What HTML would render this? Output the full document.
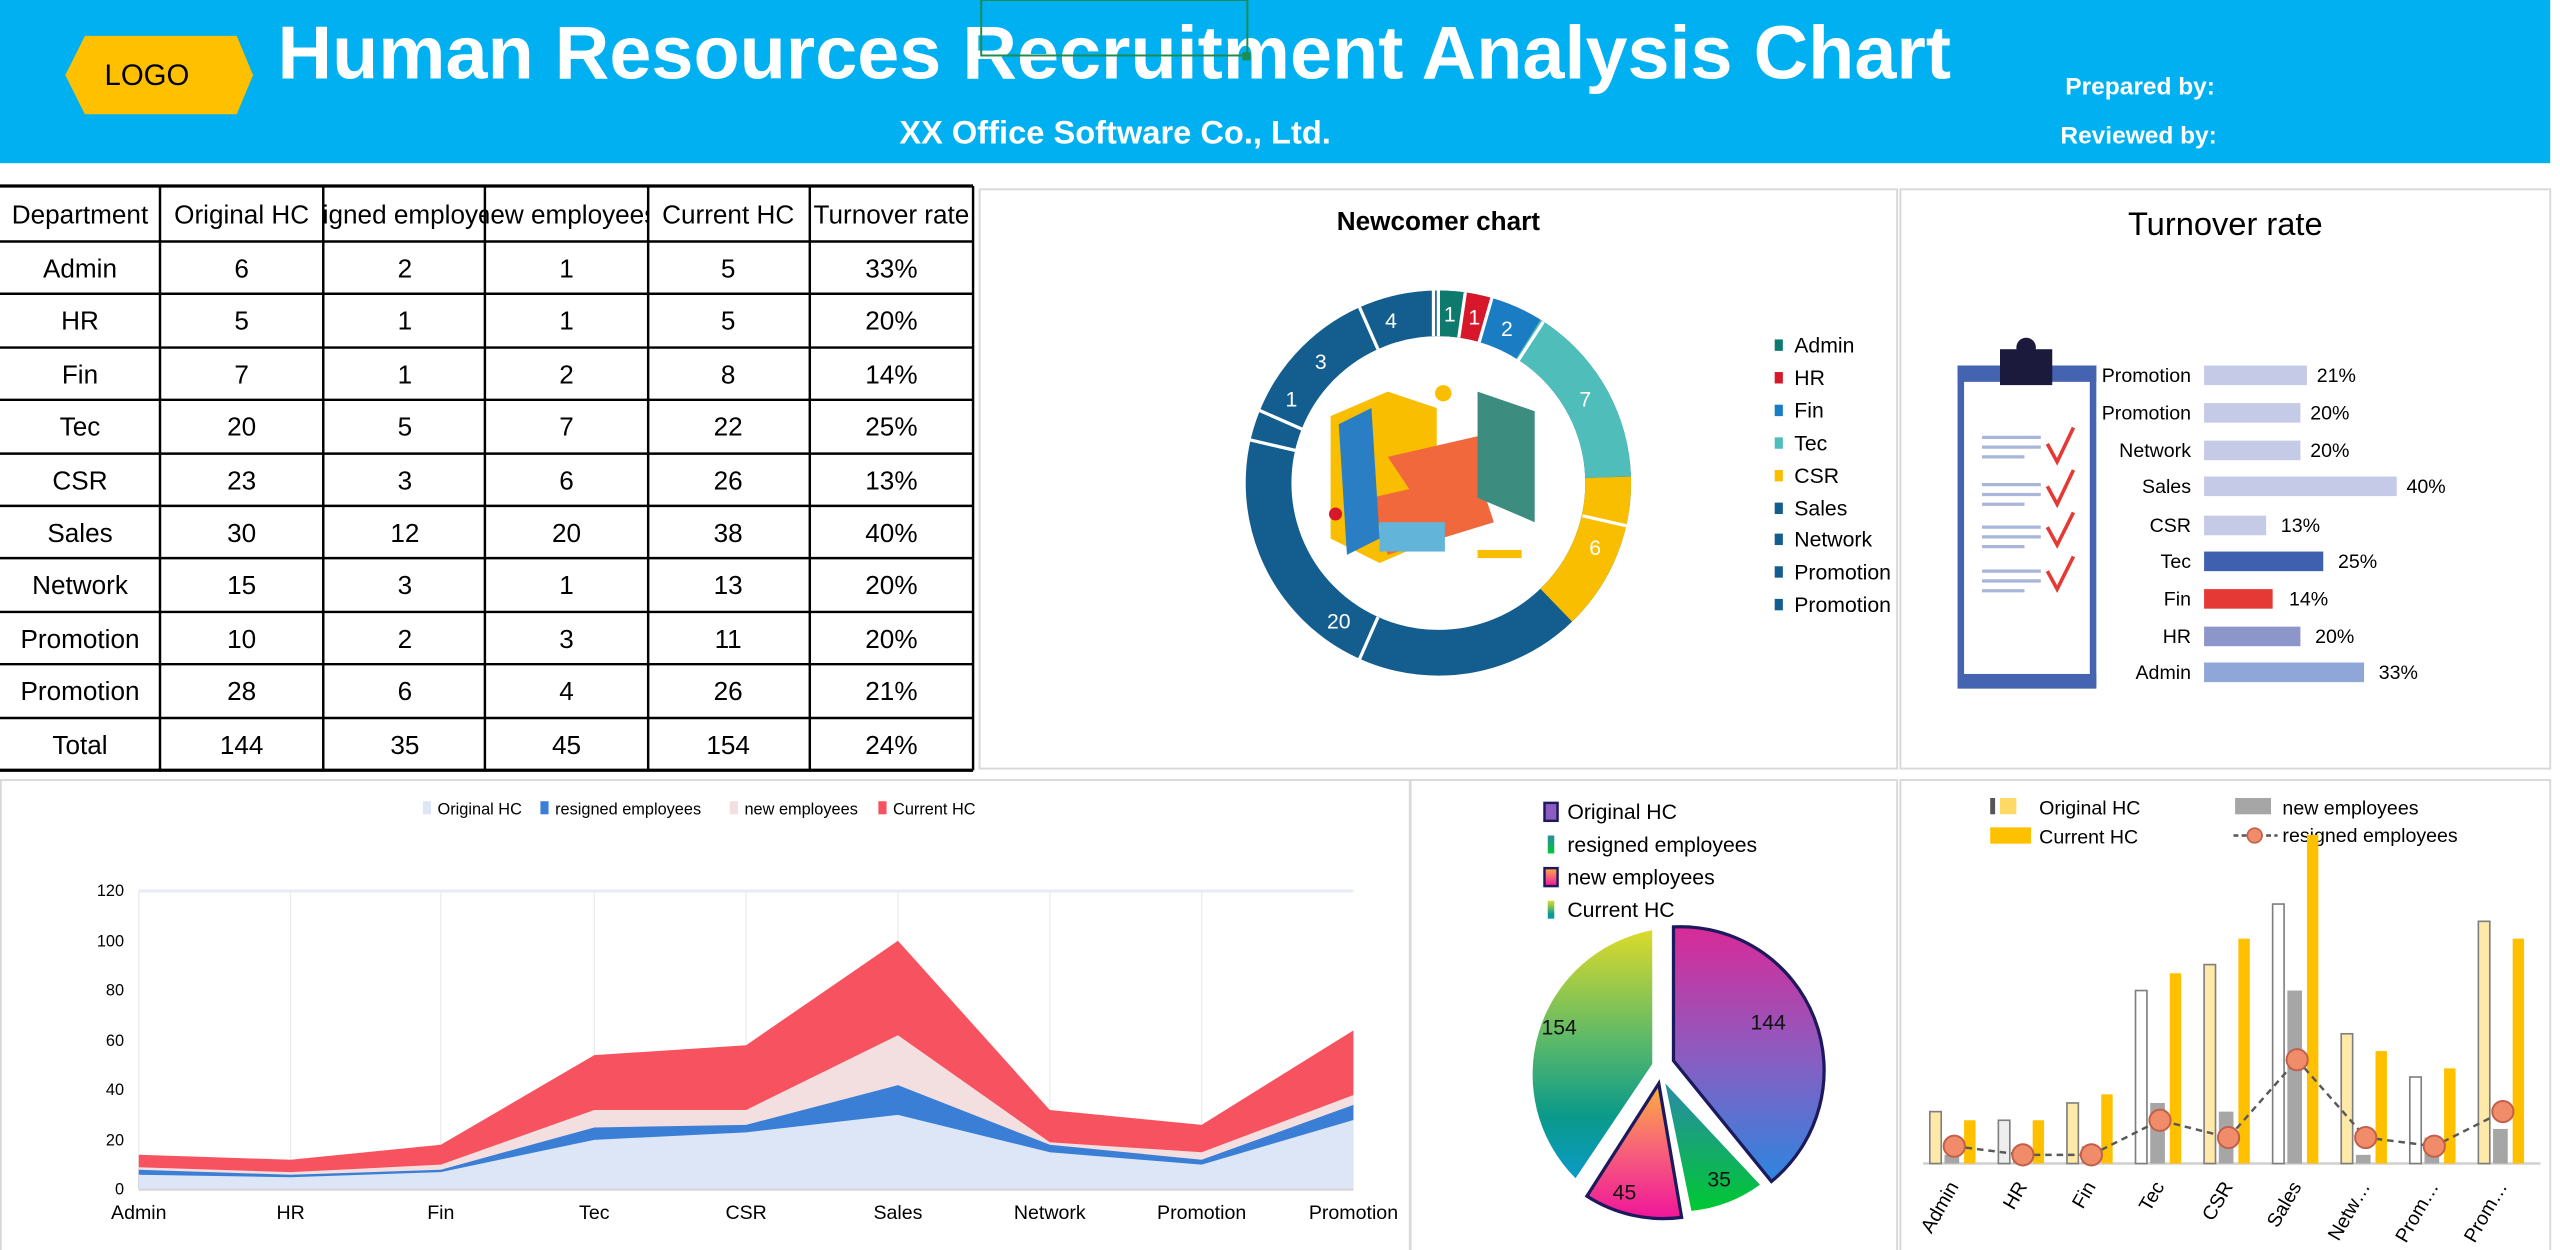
<!DOCTYPE html>
<html><head><meta charset="utf-8"><style>
html,body{margin:0;padding:0;background:#fff;}
svg{display:block;font-family:"Liberation Sans",Arial,sans-serif;}
</style></head><body>
<svg width="2560" height="1250" viewBox="0 0 1568 766" preserveAspectRatio="none" xmlns="http://www.w3.org/2000/svg">
<defs>
<linearGradient id="g144" x1="0" y1="0" x2="0" y2="1"><stop offset="0" stop-color="#D82A98"/><stop offset="0.5" stop-color="#8C5CC0"/><stop offset="1" stop-color="#2C86E0"/></linearGradient>
<linearGradient id="g154" x1="0" y1="0" x2="0" y2="1"><stop offset="0" stop-color="#DCDA2A"/><stop offset="0.45" stop-color="#5AB86A"/><stop offset="0.75" stop-color="#0A9A8A"/><stop offset="1" stop-color="#0A9AC8"/></linearGradient>
<linearGradient id="g45" x1="0" y1="0" x2="0" y2="1"><stop offset="0" stop-color="#FBB040"/><stop offset="0.5" stop-color="#F7607A"/><stop offset="1" stop-color="#F0159A"/></linearGradient>
<linearGradient id="g35" x1="0" y1="0" x2="0" y2="1"><stop offset="0" stop-color="#2A8AA8"/><stop offset="1" stop-color="#00C832"/></linearGradient>
</defs>
<!-- header -->
<rect x="0" y="0" width="1562" height="100" fill="#00B0F0"/>
<polygon points="52,22 145,22 155,46 145,70 52,70 40,46" fill="#FFC000"/>
<text x="90" y="52" font-size="18" text-anchor="middle" fill="#000">LOGO</text>
<text x="170" y="48" font-size="46" font-weight="bold" fill="#fff" textLength="1025" lengthAdjust="spacingAndGlyphs">Human Resources Recruitment Analysis Chart</text>
<text x="683" y="88" font-size="20" font-weight="bold" text-anchor="middle" fill="#fff">XX Office Software Co., Ltd.</text>
<text x="1265" y="58" font-size="15" font-weight="bold" fill="#fff">Prepared by:</text>
<text x="1262" y="88" font-size="15" font-weight="bold" fill="#fff">Reviewed by:</text>
<rect x="601" y="0" width="163" height="34" fill="none" stroke="#1E8C4E" stroke-width="1.2"/>
<rect x="761" y="32" width="5" height="5" fill="#1E8C4E"/>

<!-- table -->
<g font-size="16" text-anchor="middle" fill="#000">
<g stroke="#000" stroke-width="1.5">
<line x1="0" y1="114" x2="596" y2="114" stroke-width="2"/>
<line x1="0" y1="148" x2="596" y2="148"/><line x1="0" y1="180" x2="596" y2="180"/>
<line x1="0" y1="213" x2="596" y2="213"/><line x1="0" y1="245" x2="596" y2="245"/>
<line x1="0" y1="278" x2="596" y2="278"/><line x1="0" y1="310" x2="596" y2="310"/>
<line x1="0" y1="342" x2="596" y2="342"/><line x1="0" y1="375" x2="596" y2="375"/>
<line x1="0" y1="407" x2="596" y2="407"/><line x1="0" y1="440" x2="596" y2="440"/>
<line x1="0" y1="472" x2="596" y2="472" stroke-width="2"/>
<line x1="98" y1="114" x2="98" y2="472"/><line x1="198" y1="114" x2="198" y2="472"/>
<line x1="297" y1="114" x2="297" y2="472"/><line x1="397" y1="114" x2="397" y2="472"/>
<line x1="496" y1="114" x2="496" y2="472"/><line x1="596" y1="114" x2="596" y2="472"/>
</g>
<text x="49" y="137">Department</text><text x="148" y="137">Original HC</text>
<svg x="198" y="114" width="99" height="34"><text x="49" y="23" text-anchor="middle" font-size="16">resigned employees</text></svg>
<svg x="297" y="114" width="100" height="34"><text x="50" y="23" text-anchor="middle" font-size="16">new employees</text></svg>
<text x="446" y="137">Current HC</text><text x="546" y="137">Turnover rate</text>
<g>
<text x="49" y="170">Admin</text><text x="148" y="170">6</text><text x="248" y="170">2</text><text x="347" y="170">1</text><text x="446" y="170">5</text><text x="546" y="170">33%</text>
<text x="49" y="202">HR</text><text x="148" y="202">5</text><text x="248" y="202">1</text><text x="347" y="202">1</text><text x="446" y="202">5</text><text x="546" y="202">20%</text>
<text x="49" y="235">Fin</text><text x="148" y="235">7</text><text x="248" y="235">1</text><text x="347" y="235">2</text><text x="446" y="235">8</text><text x="546" y="235">14%</text>
<text x="49" y="267">Tec</text><text x="148" y="267">20</text><text x="248" y="267">5</text><text x="347" y="267">7</text><text x="446" y="267">22</text><text x="546" y="267">25%</text>
<text x="49" y="300">CSR</text><text x="148" y="300">23</text><text x="248" y="300">3</text><text x="347" y="300">6</text><text x="446" y="300">26</text><text x="546" y="300">13%</text>
<text x="49" y="332">Sales</text><text x="148" y="332">30</text><text x="248" y="332">12</text><text x="347" y="332">20</text><text x="446" y="332">38</text><text x="546" y="332">40%</text>
<text x="49" y="364">Network</text><text x="148" y="364">15</text><text x="248" y="364">3</text><text x="347" y="364">1</text><text x="446" y="364">13</text><text x="546" y="364">20%</text>
<text x="49" y="397">Promotion</text><text x="148" y="397">10</text><text x="248" y="397">2</text><text x="347" y="397">3</text><text x="446" y="397">11</text><text x="546" y="397">20%</text>
<text x="49" y="429">Promotion</text><text x="148" y="429">28</text><text x="248" y="429">6</text><text x="347" y="429">4</text><text x="446" y="429">26</text><text x="546" y="429">21%</text>
<text x="49" y="462">Total</text><text x="148" y="462">144</text><text x="248" y="462">35</text><text x="347" y="462">45</text><text x="446" y="462">154</text><text x="546" y="462">24%</text>
</g></g>

<!-- panels -->
<g fill="none" stroke="#D9D9D9" stroke-width="1.2">
<rect x="600" y="116" width="562" height="355"/>
<rect x="1164" y="116" width="398" height="355"/>
<rect x="0.5" y="478" width="863" height="290"/>
<rect x="864" y="478" width="298" height="290"/>
<rect x="1164" y="478" width="398" height="290"/>
</g>

<!-- newcomer donut -->
<text x="881" y="141" font-size="16" font-weight="bold" text-anchor="middle">Newcomer chart</text>
<g transform="rotate(-90 881 296)" fill="none" stroke-width="28">
<circle cx="881" cy="296" r="104" stroke="#135D8F" />
<circle cx="881" cy="296" r="104" stroke="#0E7A6E" stroke-dasharray="14.52 700" />
<circle cx="881" cy="296" r="104" stroke="#D7182A" stroke-dasharray="14.52 700" stroke-dashoffset="-14.52"/>
<circle cx="881" cy="296" r="104" stroke="#1A7DC4" stroke-dasharray="29.04 700" stroke-dashoffset="-29.04"/>
<circle cx="881" cy="296" r="104" stroke="#4FBDBA" stroke-dasharray="101.6 700" stroke-dashoffset="-58.08"/>
<circle cx="881" cy="296" r="104" stroke="#F9BE00" stroke-dasharray="87.1 700" stroke-dashoffset="-159.7"/>
</g>
<g stroke="#fff" stroke-width="2">
<line x1="881" y1="206" x2="881" y2="178"/>
<line x1="893.5" y1="206.9" x2="897.5" y2="179.2"/>
<line x1="906" y1="209.6" x2="913.8" y2="182.6"/>
<line x1="930" y1="220.7" x2="945.3" y2="197.2"/>
<line x1="969.3" y1="316.1" x2="996.6" y2="322.3"/>
<line x1="844" y1="378.2" x2="832.7" y2="403.9"/>
<line x1="793.3" y1="276" x2="765.8" y2="269.6"/>
<line x1="797.5" y1="263" x2="771" y2="251.3"/>
<line x1="844" y1="214" x2="832.7" y2="188.3"/>
<line x1="878" y1="206" x2="878" y2="178"/>
</g>
<g font-size="13" fill="#fff" text-anchor="middle">
<text x="888" y="197">1</text><text x="903" y="199">1</text><text x="923" y="206">2</text>
<text x="971" y="249">7</text><text x="977" y="340">6</text><text x="820" y="385">20</text>
<text x="791" y="249">1</text><text x="809" y="226">3</text><text x="852" y="201">4</text>
</g>
<!-- illustration approx -->
<g>
<polygon points="815,255 850,240 880,250 880,330 845,345 815,330" fill="#F9BE00"/>
<polygon points="850,280 915,265 935,290 870,310" fill="#F0683C"/>
<polygon points="840,305 905,290 915,320 850,340" fill="#F0683C"/>
<polygon points="905,240 940,252 940,320 905,305" fill="#3C8C80"/>
<polygon points="820,260 840,250 845,330 825,340" fill="#2A7EC4"/>
<rect x="845" y="320" width="40" height="18" fill="#62B4D8"/>
<rect x="905" y="337" width="27" height="5" fill="#F9BE00"/>
<circle cx="884" cy="241" r="5" fill="#F9BE00"/>
<circle cx="818" cy="315" r="4" fill="#D7182A"/>
</g>
<g font-size="13">
<rect x="1087" y="208" width="5" height="7" fill="#0E7A6E"/><text x="1099" y="216">Admin</text>
<rect x="1087" y="228" width="5" height="7" fill="#D7182A"/><text x="1099" y="236">HR</text>
<rect x="1087" y="248" width="5" height="7" fill="#1A7DC4"/><text x="1099" y="256">Fin</text>
<rect x="1087" y="268" width="5" height="7" fill="#4FBDBA"/><text x="1099" y="276">Tec</text>
<rect x="1087" y="288" width="5" height="7" fill="#F9BE00"/><text x="1099" y="296">CSR</text>
<rect x="1087" y="308" width="5" height="7" fill="#135D8F"/><text x="1099" y="316">Sales</text>
<rect x="1087" y="327" width="5" height="7" fill="#135D8F"/><text x="1099" y="335">Network</text>
<rect x="1087" y="347" width="5" height="7" fill="#135D8F"/><text x="1099" y="355">Promotion</text>
<rect x="1087" y="367" width="5" height="7" fill="#135D8F"/><text x="1099" y="375">Promotion</text>
</g>

<!-- turnover -->
<text x="1363" y="144" font-size="20" text-anchor="middle">Turnover rate</text>
<rect x="1201" y="226" width="81" height="193" fill="#fff" stroke="#4463B0" stroke-width="4"/>
<rect x="1199" y="224" width="85" height="10" fill="#4463B0"/>
<rect x="1199" y="413" width="85" height="9" fill="#4463B0"/>
<rect x="1225" y="214" width="32" height="22" fill="#1C1A3C"/>
<circle cx="1241" cy="213" r="6" fill="#1C1A3C"/>
<g stroke="#A9B6DA" stroke-width="2">
<line x1="1214" y1="268" x2="1250" y2="268"/><line x1="1214" y1="274" x2="1250" y2="274"/><line x1="1214" y1="280" x2="1240" y2="280"/>
<line x1="1214" y1="297" x2="1250" y2="297"/><line x1="1214" y1="303" x2="1250" y2="303"/><line x1="1214" y1="309" x2="1240" y2="309"/>
<line x1="1214" y1="323" x2="1250" y2="323"/><line x1="1214" y1="329" x2="1250" y2="329"/><line x1="1214" y1="335" x2="1240" y2="335"/>
<line x1="1214" y1="350" x2="1250" y2="350"/><line x1="1214" y1="356" x2="1250" y2="356"/><line x1="1214" y1="362" x2="1240" y2="362"/>
</g>
<g stroke="#E53935" stroke-width="2.2" fill="none">
<polyline points="1254,272 1260,283 1270,262"/><polyline points="1254,298 1260,309 1270,288"/>
<polyline points="1254,323 1260,334 1270,314"/><polyline points="1254,350 1260,361 1270,341"/>
</g>
<g font-size="12">
<g text-anchor="end">
<text x="1342" y="234">Promotion</text><text x="1342" y="257">Promotion</text><text x="1342" y="280">Network</text>
<text x="1342" y="302">Sales</text><text x="1342" y="326">CSR</text><text x="1342" y="348">Tec</text>
<text x="1342" y="371">Fin</text><text x="1342" y="394">HR</text><text x="1342" y="416">Admin</text>
</g>
<rect x="1350" y="224" width="63" height="12" fill="#C5CAE6"/><text x="1419" y="234">21%</text>
<rect x="1350" y="247" width="59" height="12" fill="#C5CAE6"/><text x="1415" y="257">20%</text>
<rect x="1350" y="270" width="59" height="12" fill="#C5CAE6"/><text x="1415" y="280">20%</text>
<rect x="1350" y="292" width="118" height="12" fill="#C5CAE6"/><text x="1474" y="302">40%</text>
<rect x="1350" y="316" width="38" height="12" fill="#C5CAE6"/><text x="1397" y="326">13%</text>
<rect x="1350" y="338" width="73" height="12" fill="#3F5FAF"/><text x="1432" y="348">25%</text>
<rect x="1350" y="361" width="42" height="12" fill="#E53935"/><text x="1402" y="371">14%</text>
<rect x="1350" y="384" width="59" height="12" fill="#8C96CB"/><text x="1418" y="394">20%</text>
<rect x="1350" y="406" width="98" height="12" fill="#8FA6D9"/><text x="1457" y="416">33%</text>
</g>

<!-- area chart -->
<g font-size="10">
<rect x="259" y="491" width="5" height="8" fill="#DCE6F7"/><text x="268" y="499">Original HC</text>
<rect x="331" y="491" width="5" height="8" fill="#3A7FD5"/><text x="340" y="499">resigned employees</text>
<rect x="447" y="491" width="5" height="8" fill="#F4DFE0"/><text x="456" y="499">new employees</text>
<rect x="538" y="491" width="5" height="8" fill="#F7525F"/><text x="547" y="499">Current HC</text>
</g>
<line x1="85" y1="546" x2="829" y2="546" stroke="#E8ECF4" stroke-width="2"/>
<g stroke="#ECECEC" stroke-width="0.8">
<line x1="85" y1="546" x2="85" y2="729"/><line x1="178" y1="546" x2="178" y2="729"/><line x1="270" y1="546" x2="270" y2="729"/>
<line x1="364" y1="546" x2="364" y2="729"/><line x1="457" y1="546" x2="457" y2="729"/><line x1="550" y1="546" x2="550" y2="729"/>
<line x1="643" y1="546" x2="643" y2="729"/><line x1="736" y1="546" x2="736" y2="729"/>
</g>
<polygon fill="#F7525F" points="85,729 85,707.6 178,710.7 270,701.5 364,646.6 457,640.5 550,576.5 643,680.2 736,689.3 829,631.4 829,729"/>
<polygon fill="#F4DFE0" points="85,729 85,715.3 178,718.3 270,713.7 364,680.2 457,680.2 550,634.4 643,700 736,706.1 829,671 829,729"/>
<polygon fill="#3A7FD5" points="85,729 85,716.8 178,719.9 270,716.8 364,690.9 457,689.3 550,665 643,701.5 736,710.7 829,677.1 829,729"/>
<polygon fill="#DCE6F7" points="85,729 85,719.9 178,721.4 270,718.3 364,698.5 457,693.9 550,683.2 643,706.1 736,713.7 829,686.3 829,729"/>
<line x1="85" y1="729" x2="829" y2="729" stroke="#D9D9D9" stroke-width="1.5"/>
<g font-size="10" text-anchor="end">
<text x="76" y="549">120</text><text x="76" y="580">100</text><text x="76" y="610">80</text>
<text x="76" y="641">60</text><text x="76" y="671">40</text><text x="76" y="702">20</text><text x="76" y="732">0</text>
</g>
<g font-size="12" text-anchor="middle">
<text x="85" y="747">Admin</text><text x="178" y="747">HR</text><text x="270" y="747">Fin</text>
<text x="364" y="747">Tec</text><text x="457" y="747">CSR</text><text x="550" y="747">Sales</text>
<text x="643" y="747">Network</text><text x="736" y="747">Promotion</text><text x="829" y="747">Promotion</text>
</g>

<!-- pie -->
<g font-size="13">
<rect x="946" y="492" width="8" height="11" fill="#8C5CC0" stroke="#1C1A5C" stroke-width="1.5"/><text x="960" y="502">Original HC</text>
<rect x="948" y="512" width="4" height="11" fill="url(#g35)"/><text x="960" y="522">resigned employees</text>
<rect x="946" y="532" width="8" height="11" fill="url(#g45)" stroke="#1C1A5C" stroke-width="1.5"/><text x="960" y="542">new employees</text>
<rect x="948" y="552" width="4" height="11" fill="url(#g154)"/><text x="960" y="562">Current HC</text>
</g>
<path d="M1025,650 L1025,568 A88,88 0 0 1 1085,724 Z" fill="url(#g144)" stroke="#1C1A5C" stroke-width="2"/>
<path d="M1020,664 L1078,726 A86,86 0 0 1 1036,742 Z" fill="url(#g35)"/>
<path d="M1016,664 L1030,746 A86,86 0 0 1 972,733 Z" fill="url(#g45)" stroke="#1C1A5C" stroke-width="2"/>
<path d="M1012,652 L965,722 A90,90 0 0 1 1012,570 Z" fill="url(#g154)"/>
<g font-size="13" text-anchor="middle" fill="#111">
<text x="1083" y="631">144</text><text x="1053" y="727">35</text><text x="995" y="735">45</text><text x="955" y="634">154</text>
</g>

<!-- combo chart -->
<g font-size="12">
<rect x="1219" y="489" width="3" height="10" fill="#555"/><rect x="1225" y="489" width="10" height="10" fill="#FFD966"/>
<text x="1249" y="499">Original HC</text>
<rect x="1369" y="489" width="22" height="10" fill="#A6A6A6"/><text x="1398" y="499">new employees</text>
<rect x="1219" y="507" width="25" height="10" fill="#FFC000"/><text x="1249" y="517">Current HC</text>
<line x1="1368" y1="512" x2="1395" y2="512" stroke="#555" stroke-dasharray="3 2" stroke-width="1.5"/>
<circle cx="1381" cy="512" r="4.5" fill="#F08C6A" stroke="#C0604A"/><text x="1398" y="516">resigned employees</text>
</g>
<line x1="1178" y1="713" x2="1556" y2="713" stroke="#D0D0D0" stroke-width="1.5"/>
<g stroke="#7F7F7F" stroke-width="1" fill="#fff">
<rect x="1182" y="681.2" width="7" height="31.8" fill="#FFE9A8"/>
<rect x="1224" y="686.5" width="7" height="26.5" fill="#EEE"/>
<rect x="1266" y="675.9" width="7" height="37.1" fill="#FFE9A8"/>
<rect x="1308" y="607" width="7" height="106"/>
<rect x="1350" y="591.1" width="7" height="121.9" fill="#FFE9A8"/>
<rect x="1392" y="554" width="7" height="159"/>
<rect x="1434" y="633.5" width="7" height="79.5" fill="#FFE9A8"/>
<rect x="1476" y="660" width="7" height="53"/>
<rect x="1518" y="564.6" width="7" height="148.4" fill="#FFE9A8"/>
</g>
<g fill="#A6A6A6">
<rect x="1191" y="707.7" width="9" height="5.3"/><rect x="1233" y="707.7" width="9" height="5.3"/>
<rect x="1275" y="702.4" width="9" height="10.6"/><rect x="1317" y="675.9" width="9" height="37.1"/>
<rect x="1359" y="681.2" width="9" height="31.8"/><rect x="1401" y="607" width="9" height="106"/>
<rect x="1443" y="707.7" width="9" height="5.3"/><rect x="1485" y="697.1" width="9" height="15.9"/>
<rect x="1527" y="691.8" width="9" height="21.2"/>
</g>
<g fill="#FFC000">
<rect x="1203" y="686.5" width="7" height="26.5"/><rect x="1245" y="686.5" width="7" height="26.5"/>
<rect x="1287" y="670.6" width="7" height="42.4"/><rect x="1329" y="596.4" width="7" height="116.6"/>
<rect x="1371" y="575.2" width="7" height="137.8"/><rect x="1413" y="511.6" width="7" height="201.4"/>
<rect x="1455" y="644.1" width="7" height="68.9"/><rect x="1497" y="654.7" width="7" height="58.3"/>
<rect x="1539" y="575.2" width="7" height="137.8"/>
</g>
<polyline points="1197,702.4 1239,707.7 1281,707.7 1323,686.5 1365,697.1 1407,649.4 1449,697.1 1491,702.4 1533,681.2" fill="none" stroke="#595959" stroke-width="1.5" stroke-dasharray="4 3"/>
<g fill="#F08C6A" stroke="#C0604A" stroke-width="1.2">
<circle cx="1197" cy="702.4" r="6.5"/><circle cx="1239" cy="707.7" r="6.5"/><circle cx="1281" cy="707.7" r="6.5"/>
<circle cx="1323" cy="686.5" r="6.5"/><circle cx="1365" cy="697.1" r="6.5"/><circle cx="1407" cy="649.4" r="6.5"/>
<circle cx="1449" cy="697.1" r="6.5"/><circle cx="1491" cy="702.4" r="6.5"/><circle cx="1533" cy="681.2" r="6.5"/>
</g>
<g font-size="12" text-anchor="end">
<text transform="translate(1200,727) rotate(-60)">Admin</text>
<text transform="translate(1242,727) rotate(-60)">HR</text>
<text transform="translate(1284,727) rotate(-60)">Fin</text>
<text transform="translate(1326,727) rotate(-60)">Tec</text>
<text transform="translate(1368,727) rotate(-60)">CSR</text>
<text transform="translate(1410,727) rotate(-60)">Sales</text>
<text transform="translate(1452,727) rotate(-60)">Netw…</text>
<text transform="translate(1494,727) rotate(-60)">Prom…</text>
<text transform="translate(1536,727) rotate(-60)">Prom…</text>
</g>
</svg>
</body></html>
